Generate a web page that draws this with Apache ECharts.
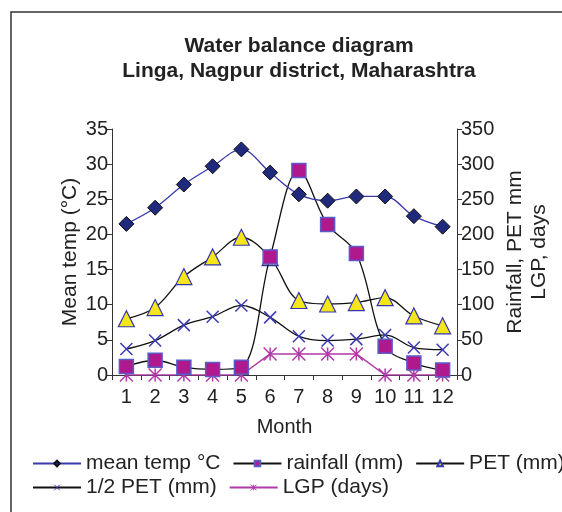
<!DOCTYPE html>
<html>
<head>
<meta charset="utf-8">
<script src="https://cdn.jsdelivr.net/npm/echarts@6/dist/echarts.min.js"></script>
<style>
  html, body { margin: 0; padding: 0; background: #fff; }
  #chart { width: 562px; height: 512px; }
</style>
</head>
<body>
<div id="chart"></div>
<script>
// Monthly water balance for Linga, Nagpur district
const months = ['1', '2', '3', '4', '5', '6', '7', '8', '9', '10', '11', '12'];
const meanTemp = [21.5, 23.8, 27.1, 29.7, 32.1, 28.8, 25.7, 24.8, 25.4, 25.4, 22.6, 21.1];
const rainfall = [12, 21, 11, 8, 11, 168, 291, 214, 173, 41, 17, 7];
const pet = [80, 96, 140, 168, 196, 167, 106, 101, 103, 110, 84, 70];
const halfPet = [37, 49, 71, 83, 99, 82, 55, 49, 51, 57, 39, 36];
const lgp = [0, 0, 0, 0, 0, 30, 30, 30, 30, 0, 0, 0];

const leftTicks = { min: 0, max: 35, interval: 5 };
const rightTicks = { min: 0, max: 350, interval: 50 };

const FONT = 'Liberation Sans, Arial, sans-serif';
const INK = '#222';

const crossPath = 'path://M0,0L10,10M10,0L0,10';
const starPath = 'path://M0,0L10,10M10,0L0,10M5,0L5,10';

const chart = echarts.init(document.getElementById('chart'), null, { renderer: 'canvas' });

const legendText = { fontSize: 21, color: INK, fontFamily: FONT };

chart.setOption({
  animation: false,
  backgroundColor: '#fff',
  textStyle: { fontFamily: FONT, color: INK },
  grid: {
    left: 112, right: 105, top: 129, bottom: 137,
    containLabel: false,
    outerBoundsMode: 'none'
  },
  xAxis: {
    type: 'category',
    data: months,
    boundaryGap: true,
    name: 'Month',
    nameLocation: 'middle',
    nameGap: 42,
    nameTextStyle: { fontSize: 20, color: INK, fontFamily: FONT },
    axisLine: { lineStyle: { color: '#333', width: 1 } },
    axisTick: { show: true, alignWithLabel: false, length: 5, lineStyle: { color: '#333' } },
    axisLabel: { fontSize: 20, color: INK, margin: 12, fontFamily: FONT, interval: 0 },
    splitLine: { show: false }
  },
  yAxis: [
    {
      type: 'value',
      position: 'left',
      min: leftTicks.min, max: leftTicks.max, interval: leftTicks.interval,
      name: 'Mean temp (°C)',
      nameLocation: 'middle',
      nameRotate: 90,
      nameGap: 31,
      nameMoveOverlap: false,
      nameTextStyle: { fontSize: 21, color: INK, fontFamily: FONT },
      axisLine: { show: true, lineStyle: { color: '#333', width: 1 } },
      axisTick: { show: true, length: 5, lineStyle: { color: '#333' } },
      axisLabel: { fontSize: 20, color: INK, margin: 4, fontFamily: FONT },
      splitLine: { show: false }
    },
    {
      type: 'value',
      position: 'right',
      min: rightTicks.min, max: rightTicks.max, interval: rightTicks.interval,
      name: 'Rainfall, PET mm\nLGP, days',
      nameLocation: 'middle',
      nameRotate: 90,
      nameGap: 46,
      nameMoveOverlap: false,
      nameTextStyle: { fontSize: 21, color: INK, fontFamily: FONT, lineHeight: 24, align: 'center' },
      axisLine: { show: true, lineStyle: { color: '#333', width: 1 } },
      axisTick: { show: true, length: 5, lineStyle: { color: '#333' } },
      axisLabel: { fontSize: 20, color: INK, margin: 4, fontFamily: FONT },
      splitLine: { show: false }
    }
  ],
  legend: [
    {
      left: 27, top: 448, width: 1000,
      itemWidth: 48, itemHeight: 7, itemGap: 12,
      textStyle: legendText,
      data: ['mean temp °C', 'rainfall (mm)', 'PET (mm)']
    },
    {
      left: 27, top: 472, width: 1000,
      itemWidth: 48, itemHeight: 7, itemGap: 12,
      textStyle: legendText,
      data: [
        { name: '1/2 PET (mm)', itemStyle: { color: 'rgba(0,0,0,0)', borderColor: '#3a3ab4', borderWidth: 1 } },
        { name: 'LGP (days)', itemStyle: { color: 'rgba(0,0,0,0)', borderColor: '#b03aa8', borderWidth: 1 } }
      ]
    }
  ],
  graphic: [
    {
      type: 'rect',
      shape: { x: 11, y: 12, width: 700, height: 700 },
      style: { fill: 'none', stroke: '#333', lineWidth: 1.5 },
      silent: true
    },
    {
      type: 'text',
      x: 299, y: 46,
      style: {
        text: 'Water balance diagram', font: 'bold 21px ' + FONT, fill: INK,
        textAlign: 'center', textVerticalAlign: 'middle'
      }
    },
    {
      type: 'text',
      x: 299, y: 71,
      style: {
        text: 'Linga, Nagpur district, Maharashtra', font: 'bold 21px ' + FONT, fill: INK,
        textAlign: 'center', textVerticalAlign: 'middle'
      }
    }
  ],
  series: [
    {
      name: 'mean temp °C',
      type: 'line',
      yAxisIndex: 0,
      data: meanTemp,
      smooth: 0.35,
      symbol: 'diamond',
      symbolSize: 15,
      lineStyle: { color: '#3a3aa8', width: 1.3 },
      itemStyle: { color: '#1f2a7c', borderColor: '#111', borderWidth: 1 },
      z: 5
    },
    {
      name: 'rainfall (mm)',
      type: 'line',
      yAxisIndex: 1,
      data: rainfall,
      smooth: 0.35,
      symbol: 'rect',
      symbolSize: 14,
      lineStyle: { color: '#111', width: 1.3 },
      itemStyle: { color: '#b0198e', borderColor: '#5a5ac8', borderWidth: 1.5 },
      z: 4
    },
    {
      name: 'PET (mm)',
      type: 'line',
      yAxisIndex: 1,
      data: pet,
      smooth: 0.35,
      symbol: 'triangle',
      symbolSize: 16,
      lineStyle: { color: '#111', width: 1.3 },
      itemStyle: { color: '#f4e61a', borderColor: '#3434b0', borderWidth: 1.2 },
      z: 3
    },
    {
      name: '1/2 PET (mm)',
      type: 'line',
      yAxisIndex: 1,
      data: halfPet,
      smooth: 0.35,
      symbol: crossPath,
      symbolSize: 12,
      lineStyle: { color: '#111', width: 1.3 },
      itemStyle: { color: 'rgba(0,0,0,0)', borderColor: '#3a3ab4', borderWidth: 1.5 },
      z: 3
    },
    {
      name: 'LGP (days)',
      type: 'line',
      yAxisIndex: 1,
      data: lgp,
      smooth: false,
      symbol: starPath,
      symbolSize: 13,
      lineStyle: { color: '#b03aa8', width: 1.5 },
      itemStyle: { color: 'rgba(0,0,0,0)', borderColor: '#b03aa8', borderWidth: 1.5 },
      z: 2
    }
  ]
});
</script>
</body>
</html>
